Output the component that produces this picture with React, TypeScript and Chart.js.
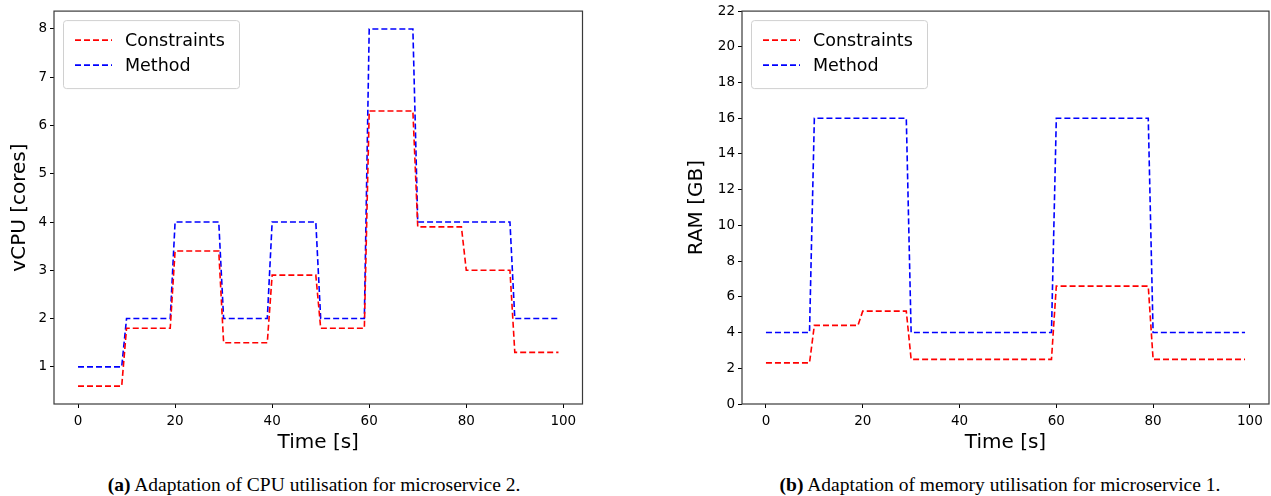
import React, { useEffect, useRef } from "react";
import { Chart, registerables } from "chart.js";

Chart.register(...registerables);

const FONT = "'DejaVu Sans', sans-serif";

// Each block of the step series: first and last sample time
const blockStart = [0, 10, 20, 30, 40, 50, 60, 70, 80, 90];
const blockEnd = [9, 19, 29, 39, 49, 59, 69, 79, 89, 99];

// (a) CPU, microservice 2
const cpuConstraints = [0.6, 1.8, 3.4, 1.5, 2.9, 1.8, 6.3, 3.9, 3.0, 1.3];
const cpuMethod = [1, 2, 4, 2, 4, 2, 8, 4, 4, 2];

// (b) RAM, microservice 1
const ramConstraints = [2.3, 4.4, 5.2, 2.5, 2.5, 2.5, 6.6, 6.6, 2.5, 2.5];
const ramMethod = [4, 16, 16, 4, 4, 4, 16, 16, 4, 4];

const xTicks = [0, 20, 40, 60, 80, 100];
const cpuTicks = [1, 2, 3, 4, 5, 6, 7, 8];
const ramTicks = [0, 2, 4, 6, 8, 10, 12, 14, 16, 18, 20, 22];

const seriesNames = ["Constraints", "Method"];

function buildPoints(values: number[]) {
  const pts: { x: number; y: number }[] = [];
  values.forEach((v, i) => {
    pts.push({ x: blockStart[i], y: v });
    pts.push({ x: blockEnd[i], y: v });
  });
  return pts;
}

const framePlugin = {
  id: "frameAndLegend",
  afterDatasetsDraw(chart: any) {
    const { ctx, chartArea: a } = chart;
    ctx.save();
    ctx.strokeStyle = "#3a3a3a";
    ctx.lineWidth = 1.2;
    ctx.setLineDash([]);
    ctx.strokeRect(a.left, a.top, a.right - a.left, a.bottom - a.top);

    const x0 = a.left + 9;
    const y0 = a.top + 9;
    const w = 176;
    const h = 68;
    ctx.beginPath();
    (ctx as any).roundRect(x0 + 0.5, y0 + 0.5, w, h, 3);
    ctx.fillStyle = "rgba(255,255,255,0.85)";
    ctx.fill();
    ctx.strokeStyle = "#d0d0d0";
    ctx.lineWidth = 1;
    ctx.stroke();

    chart.data.datasets.forEach((ds: any, i: number) => {
      const y = y0 + 20 + i * 25;
      ctx.setLineDash([6, 3]);
      ctx.strokeStyle = ds.borderColor;
      ctx.lineWidth = 1.6;
      ctx.beginPath();
      ctx.moveTo(x0 + 12, y);
      ctx.lineTo(x0 + 49, y);
      ctx.stroke();
      ctx.setLineDash([]);
      ctx.fillStyle = "#000";
      ctx.font = `17.5px ${FONT}`;
      ctx.textBaseline = "middle";
      ctx.textAlign = "left";
      ctx.fillText(ds.label, x0 + 62, y + 1);
    });
    ctx.restore();
  },
};

interface PanelProps {
  left: number;
  width: number;
  height: number;
  yTitle: string;
  yMin: number;
  yMax: number;
  yTicks: number[];
  constraints: number[];
  method: number[];
  yScaleWidth: number;
  yTitlePad: number;
  rightPad: number;
}

function Panel(p: PanelProps) {
  const ref = useRef<HTMLCanvasElement | null>(null);
  useEffect(() => {
    if (!ref.current) return;
    const tickFont = { family: FONT, size: 13.5 };
    const chart = new Chart(ref.current, {
      type: "line",
      data: {
        datasets: [
          {
            label: seriesNames[0],
            data: buildPoints(p.constraints),
            borderColor: "#ff0000",
            borderWidth: 1.6,
            borderDash: [6, 3],
            pointRadius: 0,
            tension: 0,
            fill: false,
          },
          {
            label: seriesNames[1],
            data: buildPoints(p.method),
            borderColor: "#0000ff",
            borderWidth: 1.6,
            borderDash: [6, 3],
            pointRadius: 0,
            tension: 0,
            fill: false,
          },
        ],
      },
      options: {
        responsive: false,
        animation: false,
        devicePixelRatio: 1,
        layout: { padding: { top: 11, right: p.rightPad, left: 0, bottom: 0 } },
        plugins: { legend: { display: false }, tooltip: { enabled: false } },
        scales: {
          x: {
            type: "linear",
            min: -4.95,
            max: 103.95,
            afterBuildTicks: (s: any) => {
              s.ticks = xTicks.map((v) => ({ value: v }));
            },
            afterFit: (s: any) => {
              s.height = p.height - 404;
            },
            grid: { drawOnChartArea: false, drawTicks: true, tickLength: 4, color: "#000", lineWidth: 1 },
            border: { display: false },
            ticks: {
              color: "#000",
              font: tickFont,
              padding: 5,
              maxRotation: 0,
              autoSkip: false,
              callback: (v: any) => String(v),
            },
            title: {
              display: true,
              text: "Time [s]",
              color: "#000",
              font: { family: FONT, size: 20 },
              padding: { top: 0, bottom: 7 },
            },
          },
          y: {
            type: "linear",
            min: p.yMin,
            max: p.yMax,
            afterBuildTicks: (s: any) => {
              s.ticks = p.yTicks.map((v) => ({ value: v }));
            },
            afterFit: (s: any) => {
              s.width = p.yScaleWidth;
            },
            grid: { drawOnChartArea: false, drawTicks: true, tickLength: 4, color: "#000", lineWidth: 1 },
            border: { display: false },
            ticks: {
              color: "#000",
              font: tickFont,
              padding: 3,
              autoSkip: false,
              callback: (v: any) => String(v),
            },
            title: {
              display: true,
              text: p.yTitle,
              color: "#000",
              font: { family: FONT, size: 20 },
              padding: { top: p.yTitlePad, bottom: 0 },
            },
          },
        },
      },
      plugins: [framePlugin],
    } as any);
    return () => chart.destroy();
  }, []);
  return (
    <canvas
      ref={ref}
      width={p.width}
      height={p.height}
      style={{ position: "absolute", left: p.left, top: 0, width: p.width, height: p.height }}
    />
  );
}

const captionStyle = (center: number): React.CSSProperties => ({
  position: "absolute",
  left: center - 320,
  width: 640,
  top: 473,
  height: 24,
  lineHeight: "24px",
  textAlign: "center",
  fontFamily: "'Liberation Serif', 'Times New Roman', serif",
  fontSize: 19.5,
  color: "#000",
  whiteSpace: "nowrap",
});

export default function App() {
  return (
    <div
      style={{
        position: "fixed",
        left: 0,
        top: 0,
        width: 1271,
        height: 496,
        background: "#fff",
        overflow: "hidden",
      }}
    >
      <Panel
        left={0}
        width={625}
        height={462}
        yTitle="vCPU [cores]"
        yMin={0.23}
        yMax={8.37}
        yTicks={cpuTicks}
        constraints={cpuConstraints}
        method={cpuMethod}
        yScaleWidth={54}
        yTitlePad={8}
        rightPad={42.5}
      />
      <Panel
        left={680}
        width={591}
        height={462}
        yTitle="RAM [GB]"
        yMin={0}
        yMax={22}
        yTicks={ramTicks}
        constraints={ramConstraints}
        method={ramMethod}
        yScaleWidth={62}
        yTitlePad={5}
        rightPad={2}
      />
      <div style={captionStyle(314)}>
        <b>(a)</b> Adaptation of CPU utilisation for microservice 2.
      </div>
      <div style={captionStyle(1000)}>
        <b>(b)</b> Adaptation of memory utilisation for microservice 1.
      </div>
    </div>
  );
}
